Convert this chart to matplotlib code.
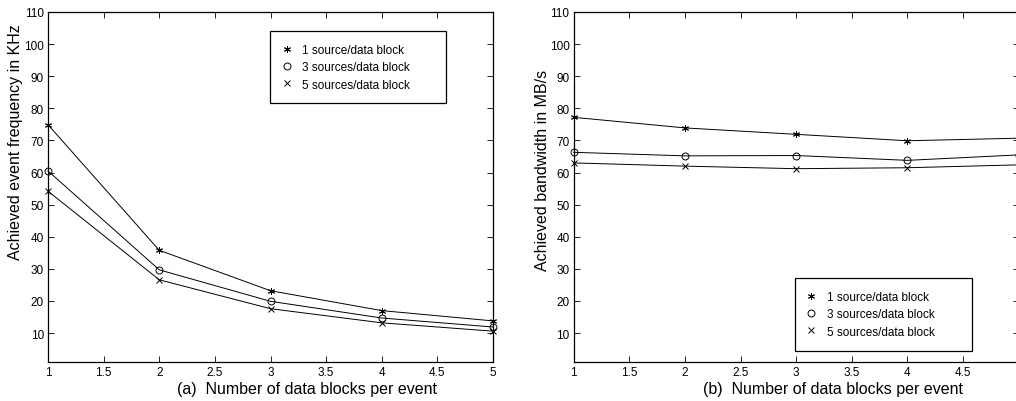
import matplotlib
matplotlib.use("Agg")
import matplotlib.pyplot as plt

plt.rcParams["font.family"] = ["Liberation Sans", "DejaVu Sans"]

# Data
blocks = [1, 2, 3, 4, 5]
series_labels = ["1 source/data block", "3 sources/data block", "5 sources/data block"]

freq_1src = [74.9, 35.8, 23.2, 17.0, 13.8]
freq_3src = [60.5, 29.7, 19.9, 14.7, 11.9]
freq_5src = [54.2, 26.6, 17.6, 13.2, 10.6]

bw_1src = [77.2, 73.9, 71.9, 69.9, 70.7]
bw_3src = [66.3, 65.2, 65.3, 63.8, 65.5]
bw_5src = [63.0, 62.0, 61.2, 61.5, 62.4]

xticks = [1, 1.5, 2, 2.5, 3, 3.5, 4, 4.5, 5]
xticklabels = ["1", "1.5", "2", "2.5", "3", "3.5", "4", "4.5", "5"]
yticks = [10, 20, 30, 40, 50, 60, 70, 80, 90, 100, 110]

markers = [(6, 2, 0), "o", "x"]

W, H = 1016, 402
fig = plt.figure(figsize=(W / 100, H / 100), dpi=100)
ax_a = fig.add_axes([48 / W, 39 / H, 445 / W, 350 / H])
ax_b = fig.add_axes([573.7 / W, 39 / H, 445 / W, 350 / H])


def style_axes(ax, ylabel, xlabel, ylabel_x, ylabel_y):
    ax.set_xlim(1, 5)
    ax.set_ylim(1, 110)
    ax.set_xticks(xticks)
    ax.set_xticklabels(xticklabels)
    ax.set_yticks(yticks)
    ax.tick_params(direction="in", top=True, right=True, length=4, width=0.6,
                   labelsize=8.5, pad=3)
    for s in ax.spines.values():
        s.set_linewidth(0.9)
    ax.set_ylabel(ylabel, fontsize=11.5)
    ax.yaxis.set_label_coords(ylabel_x, ylabel_y)
    ax.set_xlabel(xlabel, fontsize=11.5)
    ax.xaxis.set_label_coords(0.583, -0.054)


def draw(ax, data, legend_box):
    for vals, lab, m in zip(data, series_labels, markers):
        ax.plot(blocks, vals, color="black", linewidth=0.7, marker=m,
                markersize=5, markerfacecolor="none", markeredgewidth=0.7,
                label=lab, clip_on=False)
    leg = ax.legend(loc="upper left", bbox_to_anchor=legend_box, mode="expand",
                    fontsize=8.5, frameon=True, fancybox=False, edgecolor="black",
                    framealpha=1, handlelength=0.6, handletextpad=1.0,
                    borderpad=1.1, borderaxespad=0, labelspacing=0.45)
    leg.get_frame().set_linewidth(0.9)
    for h in leg.legend_handles:
        h.set_linestyle("none")


draw(ax_a, [freq_1src, freq_3src, freq_5src], (0.499, 0.5, 0.396, 0.446))
style_axes(ax_a, "Achieved event frequency in KHz",
           "(a)  Number of data blocks per event", -0.056, 0.631)

draw(ax_b, [bw_1src, bw_3src, bw_5src], (0.497, 0.0, 0.398, 0.24))
style_axes(ax_b, "Achieved bandwidth in MB/s",
           "(b)  Number of data blocks per event", -0.053, 0.551)

fig.savefig("out.png", dpi=100)
